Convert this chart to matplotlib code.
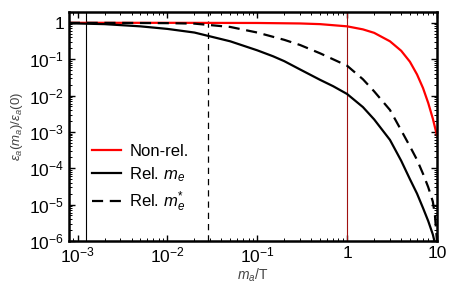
import matplotlib
matplotlib.use('Agg')
import matplotlib.pyplot as plt
from matplotlib.ticker import LogLocator, NullFormatter

plt.rcParams['font.family'] = ['Liberation Sans', 'DejaVu Sans']
plt.rcParams['mathtext.fontset'] = 'custom'
plt.rcParams['mathtext.rm'] = 'Liberation Sans'
plt.rcParams['mathtext.it'] = 'Liberation Sans:italic'

# data
m_red = [8e-4, 0.01, 0.1, 0.3, 0.5, 1, 1.5, 2, 3, 4, 5, 6, 7, 8, 9, 10]
e_red = [1.0, 1.0, 0.99, 0.96, 0.92, 0.80, 0.66, 0.53, 0.31, 0.17, 0.085, 0.038, 0.016, 0.0062, 0.0023, 0.0008]

m_rel = [8e-4, 0.002, 0.005, 0.01, 0.02, 0.05, 0.1, 0.15, 0.2, 0.3, 0.5, 0.7, 1, 1.5, 2, 3, 4, 5, 6, 7, 8, 9, 10]
e_rel = [0.97, 0.92, 0.80, 0.68, 0.54, 0.31, 0.175, 0.12, 0.088, 0.052, 0.027, 0.018, 0.011, 0.0048, 0.0022, 6e-4,
         1.6e-4, 5e-5, 2e-5, 8e-6, 3.5e-6, 1.5e-6, 5e-7]

m_star = [8e-4, 0.003, 0.01, 0.02, 0.05, 0.1, 0.2, 0.3, 0.5, 1, 1.5, 2, 3, 4, 5, 6, 7, 8, 9, 9.5, 10]
e_star = [1.0, 0.995, 0.98, 0.95, 0.77, 0.54, 0.34, 0.245, 0.145, 0.066, 0.028, 0.013, 4e-3, 1.1e-3,
          4e-4, 1.7e-4, 7e-5, 3e-5, 1.2e-5, 5e-6, 1e-6]

vlines = [1.25e-3, 0.0286, 1.0]

xticks = [1e-3, 1e-2, 1e-1, 1, 10]
xlabels = [r'$10^{-3}$', r'$10^{-2}$', r'$10^{-1}$', '1', '10']
yticks = [1e-6, 1e-5, 1e-4, 1e-3, 1e-2, 1e-1, 1]
ylabels = [r'$10^{-6}$', r'$10^{-5}$', r'$10^{-4}$', r'$10^{-3}$', r'$10^{-2}$', r'$10^{-1}$', '1']

fig = plt.figure(figsize=(4.5, 2.97), dpi=100)
ax = fig.add_axes([0.153, 0.189, 0.818, 0.771])

ax.axvline(vlines[0], color='black', lw=0.8)
ax.axvline(vlines[1], color='black', lw=0.9, dashes=(5, 4))
ax.axvline(vlines[2], color='#a01010', lw=0.8)

ax.plot(m_red, e_red, color='red', lw=1.6, label='Non-rel.')
ax.plot(m_rel, e_rel, color='black', lw=1.6, label=r'Rel. $m_e$')
ax.plot(m_star, e_star, color='black', lw=1.6, dashes=(5, 3), label=r'Rel. $m_e^{*}$')

ax.set_xscale('log')
ax.set_yscale('log')
ax.set_xlim(8e-4, 10)
ax.set_ylim(1e-6, 2)

ax.set_xticks(xticks, xlabels)
ax.set_yticks(yticks, ylabels)
ax.xaxis.set_minor_locator(LogLocator(base=10, subs=range(2, 10), numticks=20))
ax.yaxis.set_minor_locator(LogLocator(base=10, subs=range(2, 10), numticks=20))
ax.xaxis.set_minor_formatter(NullFormatter())
ax.yaxis.set_minor_formatter(NullFormatter())
ax.tick_params(which='both', direction='in', top=True, right=True, labelsize=12.5)
ax.tick_params(which='major', length=4, width=1)
ax.tick_params(which='minor', length=2, width=0.7)
for s in ax.spines.values():
    s.set_linewidth(1.8)

ax.set_xlabel(r'$m_a/\mathrm{T}$', fontsize=10, color='#444444', labelpad=1)
ax.set_ylabel(r'$\varepsilon_a(m_a)/\varepsilon_a(0)$', fontsize=9.5, color='#444444', labelpad=3)

ax.legend(loc='center left', bbox_to_anchor=(0.0625, 0.27), frameon=False, fontsize=12,
          borderpad=0, borderaxespad=0, handlelength=1.75, handletextpad=0.5, labelspacing=0.35)

fig.savefig('out.png', dpi=100)
